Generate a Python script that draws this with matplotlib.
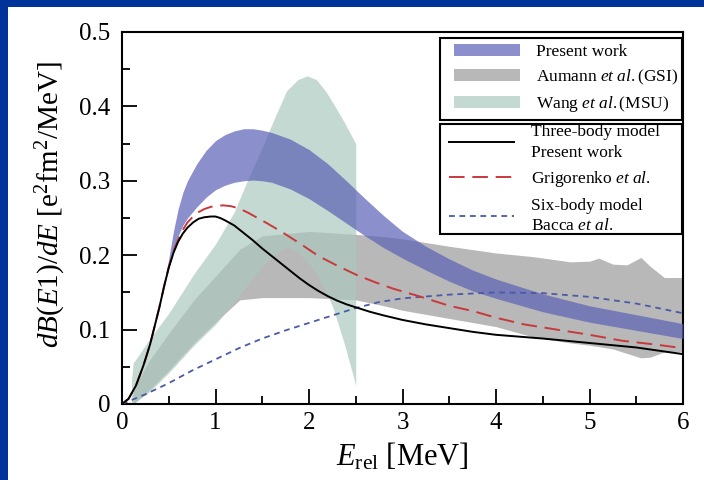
import numpy as np
import matplotlib
matplotlib.use("Agg")
import matplotlib.pyplot as plt
from matplotlib.patches import Rectangle, Patch
from matplotlib.lines import Line2D
from matplotlib.legend_handler import HandlerPatch, HandlerLine2D

plt.rcParams['font.family'] = ['Liberation Serif', 'DejaVu Serif']
plt.rcParams['mathtext.fontset'] = 'custom'
plt.rcParams['mathtext.rm'] = 'Liberation Serif'
plt.rcParams['mathtext.it'] = 'Liberation Serif:italic'

# ---------------- data ----------------
# Present work (band)
pw_x = [0.0, 0.2, 0.3, 0.4, 0.45, 0.5, 0.55, 0.6, 0.65, 0.7, 0.8, 0.9, 1.0, 1.1, 1.2, 1.3,
        1.4, 1.5, 1.6, 1.8, 2.0, 2.2, 2.4, 2.6, 2.8, 3.0, 3.25, 3.5, 3.75, 4.0, 4.5, 5.0,
        5.5, 6.0]
pw_hi = [0.0, 0.022, 0.08, 0.13, 0.162, 0.195, 0.232, 0.262, 0.284, 0.300, 0.323, 0.341,
         0.354, 0.362, 0.367, 0.370, 0.370, 0.368, 0.365, 0.356, 0.342, 0.323, 0.300, 0.276,
         0.253, 0.232, 0.212, 0.195, 0.180, 0.168, 0.148, 0.132, 0.120, 0.108]
pw_lo = [0.0, 0.022, 0.08, 0.13, 0.158, 0.185, 0.207, 0.226, 0.240, 0.250, 0.265, 0.278,
         0.288, 0.294, 0.298, 0.300, 0.301, 0.300, 0.298, 0.289, 0.276, 0.260, 0.243, 0.226,
         0.210, 0.196, 0.180, 0.165, 0.152, 0.142, 0.124, 0.110, 0.099, 0.088]

# Aumann et al. (GSI) band
gsi_x = [0.12, 0.3, 0.5, 0.77, 1.0, 1.26, 1.5, 2.0, 2.5, 2.8, 3.0, 3.5, 4.0, 4.4, 4.8,
         5.0, 5.1, 5.25, 5.4, 5.55, 5.65, 5.8, 6.0]
gsi_hi = [0.02, 0.06, 0.095, 0.14, 0.172, 0.208, 0.226, 0.232, 0.228, 0.225, 0.222, 0.212,
          0.203, 0.198, 0.191, 0.192, 0.196, 0.188, 0.187, 0.197, 0.185, 0.170, 0.170]
gsi_lo = [0.0, 0.02, 0.045, 0.082, 0.110, 0.140, 0.143, 0.143, 0.140, 0.132, 0.126, 0.115,
          0.104, 0.090, 0.082, 0.079, 0.077, 0.074, 0.068, 0.062, 0.063, 0.070, 0.070]

# Wang et al. (MSU) band
msu_x = [0.1, 0.12, 0.3, 0.5, 0.77, 1.0, 1.2, 1.34, 1.5, 1.62, 1.76, 1.88, 1.98, 2.08,
         2.18, 2.26, 2.38, 2.5]
msu_hi = [0.03, 0.055, 0.088, 0.122, 0.175, 0.215, 0.258, 0.300, 0.345, 0.381, 0.421,
          0.436, 0.441, 0.436, 0.420, 0.404, 0.378, 0.350]
msu_lo = [0.0, 0.0, 0.017, 0.042, 0.079, 0.107, 0.137, 0.160, 0.185, 0.200, 0.211, 0.205,
          0.192, 0.175, 0.152, 0.128, 0.080, 0.025]

# Three-body model, present work
tb_x = [0.0, 0.07, 0.15, 0.23, 0.3, 0.34, 0.4, 0.45, 0.5, 0.55, 0.6, 0.65, 0.7, 0.76,
        0.82, 0.88, 0.95, 1.0, 1.05, 1.1, 1.2, 1.3, 1.4, 1.5, 1.6, 1.7, 1.8, 1.9, 2.0,
        2.1, 2.2, 2.3, 2.4, 2.5, 2.65, 2.8, 3.0, 3.25, 3.5, 3.75, 4.0, 4.5, 5.0, 5.5, 6.0]
tb_y = [0.0, 0.007, 0.025, 0.052, 0.08, 0.1, 0.13, 0.158, 0.183, 0.203, 0.218, 0.229,
        0.237, 0.244, 0.249, 0.251, 0.252, 0.252, 0.250, 0.247, 0.240, 0.230, 0.220, 0.209,
        0.199, 0.189, 0.179, 0.169, 0.160, 0.152, 0.145, 0.139, 0.134, 0.130, 0.124, 0.119,
        0.113, 0.107, 0.102, 0.097, 0.093, 0.088, 0.082, 0.076, 0.067]

# Grigorenko et al.
gr_x = [0.0, 0.07, 0.15, 0.23, 0.3, 0.34, 0.4, 0.45, 0.5, 0.55, 0.6, 0.65, 0.7, 0.76,
        0.82, 0.88, 0.95, 1.0, 1.08, 1.16, 1.25, 1.35, 1.45, 1.55, 1.7, 1.9, 2.1, 2.3,
        2.5, 2.7, 2.9, 3.2, 3.5, 3.75, 4.0, 4.3, 4.6, 5.0, 5.35, 5.7, 6.0]
gr_y = [0.0, 0.007, 0.025, 0.052, 0.08, 0.1, 0.13, 0.158, 0.184, 0.205, 0.221, 0.234,
        0.244, 0.252, 0.258, 0.262, 0.265, 0.266, 0.267, 0.266, 0.263, 0.257, 0.250, 0.243,
        0.232, 0.216, 0.199, 0.186, 0.174, 0.164, 0.155, 0.144, 0.132, 0.125, 0.116, 0.107,
        0.101, 0.093, 0.085, 0.080, 0.075]

# Six-body model, Bacca et al.
sb_x = [0.0, 0.25, 0.5, 0.75, 1.0, 1.25, 1.5, 1.75, 2.0, 2.25, 2.5, 2.75, 3.0, 3.5, 4.0,
        4.5, 5.0, 5.5, 6.0]
sb_y = [0.0, 0.013, 0.028, 0.045, 0.060, 0.075, 0.088, 0.099, 0.109, 0.119, 0.129, 0.137,
        0.142, 0.147, 0.150, 0.149, 0.144, 0.135, 0.122]

band_labels = ['Present work', r'Aumann $\mathit{et\ al.}$(GSI)', r'Wang $\mathit{et\ al.}$(MSU)']
line_labels = ['Three-body model\nPresent work', r'Grigorenko $\mathit{et\ al.}$',
               'Six-body model\n' + r'Bacca $\mathit{et\ al.}$']

# ---------------- styles ----------------
C_PW, A_PW = '#5a60b5', 0.70
C_GSI = '#b8b8b8'
C_MSU, A_MSU = '#acc9bf', 0.7
C_TB = 'black'
C_GR = '#c8393b'
C_SB = '#4a5aa8'

fig = plt.figure(figsize=(7.04, 4.8), dpi=100, facecolor='#003399')
fig.add_artist(Rectangle((8 / 704, 0), 1, 473 / 480, transform=fig.transFigure,
                         facecolor='white', edgecolor='none', zorder=-5))
ax = fig.add_axes([122 / 704, 76 / 480, 561 / 704, 372 / 480])

h_gsi = ax.fill_between(gsi_x, gsi_lo, gsi_hi, color=C_GSI, lw=0, zorder=1)
h_msu = ax.fill_between(msu_x, msu_lo, msu_hi, color=C_MSU, alpha=A_MSU, lw=0, zorder=2)
h_pw = ax.fill_between(pw_x, pw_lo, pw_hi, color=C_PW, alpha=A_PW, lw=0, zorder=3)

l_sb, = ax.plot(sb_x, sb_y, color=C_SB, lw=1.3, dashes=(3.2, 2.6), zorder=4)
l_gr, = ax.plot(gr_x, gr_y, color=C_GR, lw=1.4, dashes=(8, 4), zorder=5)
l_tb, = ax.plot(tb_x, tb_y, color=C_TB, lw=1.4, zorder=6)

ax.set_xlim(0, 6)
ax.set_ylim(0, 0.5)
ax.set_xticks([0, 1, 2, 3, 4, 5, 6])
ax.set_xticks(np.arange(0.5, 6, 1.0), minor=True)
ax.set_yticks([0, 0.1, 0.2, 0.3, 0.4, 0.5])
ax.set_yticks(np.arange(0.05, 0.5, 0.1), minor=True)
ax.set_yticklabels(['0', '0.1', '0.2', '0.3', '0.4', '0.5'])
ax.tick_params(which='both', direction='in', top=False, right=False, width=1.3)
ax.tick_params(which='major', length=11, labelsize=18)
ax.tick_params(axis='y', which='major', pad=8.5)
ax.tick_params(axis='x', which='major', pad=6)
ax.tick_params(which='minor', length=5.5)
for s in ax.spines.values():
    s.set_linewidth(1.5)

ax.set_xlabel(r'$E_{\rm rel}$ [MeV]', fontsize=22, labelpad=5)
ax.set_ylabel(r'$dB(E1)/dE$ [e$^2$fm$^2$/MeV]', fontsize=21)
ax.yaxis.set_label_coords(-0.097, 0.535)

OFF = 6.5  # points


class OffPatch(HandlerPatch):
    def create_artists(self, legend, orig_handle, xdescent, ydescent, width, height,
                       fontsize, trans):
        p = Rectangle((OFF - xdescent, -ydescent), width - OFF, height)
        p.set_facecolor(orig_handle.get_facecolor())
        p.set_edgecolor('none')
        p.set_transform(trans)
        return [p]


class OffLine(HandlerLine2D):
    def create_artists(self, legend, orig_handle, xdescent, ydescent, width, height,
                       fontsize, trans):
        y = (height - ydescent) / 2.0
        ln = Line2D([OFF - xdescent, width - xdescent], [y, y])
        self.update_prop(ln, orig_handle, legend)
        ln.set_marker('None')
        ln.set_transform(trans)
        return [ln]


pk = [Patch(facecolor=C_PW, alpha=A_PW), Patch(facecolor=C_GSI), Patch(facecolor=C_MSU, alpha=A_MSU)]
leg_kw = dict(loc='upper left', mode='expand', borderaxespad=0, fontsize=12.5,
              handlelength=4.3, handleheight=0.66, handletextpad=0.95, fancybox=False,
              edgecolor='black', framealpha=1)
leg1 = ax.legend(pk, band_labels, bbox_to_anchor=(0.566, 0.983, 0.432, 0), labelspacing=0.42,
                 borderpad=0.33, handler_map={Patch: OffPatch()}, **leg_kw)
leg1.get_frame().set_linewidth(1.5)
ax.add_artist(leg1)
leg2 = ax.legend([l_tb, l_gr, l_sb], line_labels, bbox_to_anchor=(0.566, 0.752, 0.432, 0),
                 labelspacing=0.5, borderpad=0.0, handler_map={Line2D: OffLine()}, **leg_kw)
leg2.get_frame().set_linewidth(1.5)
for t in leg2.get_texts():
    t.set_linespacing(1.36)
leg1.set_zorder(10)
leg2.set_zorder(10)

fig.savefig('out.png', dpi=100, facecolor=fig.get_facecolor())
